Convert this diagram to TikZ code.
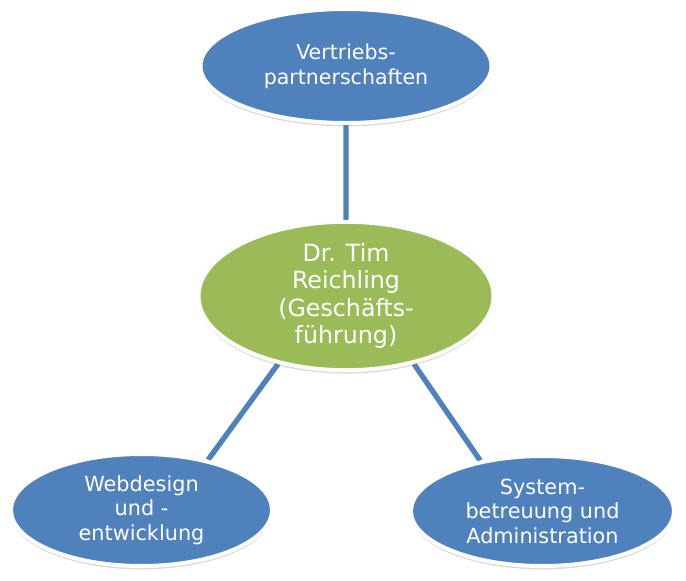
\documentclass[tikz,border=0pt]{standalone}
\usepackage{fontspec}
\setmainfont{DejaVu Sans}
\usetikzlibrary{shapes,shadows}
\usetikzlibrary{backgrounds}

\definecolor{bereich}{HTML}{4F81BD}
\definecolor{leitung}{HTML}{9BBB59}

\tikzset{
	bubble/.style={ellipse, draw=white, line width=3pt, inner sep=0pt,
		text=white, align=center,
		drop shadow={opacity=.3, shadow xshift=0pt, shadow yshift=-2.5pt}},
	link/.style={bereich, line width=4pt}
}

\begin{document}
\begin{tikzpicture}[x=.75pt,y=-.75pt]
	\useasboundingbox (0,0) rectangle (686,581);
	
	\node[bubble, fill=bereich, minimum width=218.25pt, minimum height=85.5pt,
		font=\fontsize{15.4}{18.75}\selectfont]
		(vertrieb) at (346,66) {Vertriebs-\\partnerschaften};
	\node[bubble, fill=leitung, minimum width=221.25pt, minimum height=111pt,
		font=\fontsize{17.8}{20.5}\selectfont]
		(chef) at (346,296) {Dr. Tim\\Reichling\\(Geschäfts-\\führung)};
	\node[bubble, fill=bereich, minimum width=195.75pt, minimum height=84pt,
		font=\fontsize{15.6}{18.4}\selectfont]
		(web) at (141.5,510) {Webdesign\\und -\\entwicklung};
	\node[bubble, fill=bereich, minimum width=197.25pt, minimum height=82.5pt,
		font=\fontsize{15.6}{18.4}\selectfont]
		(system) at (542.5,511) {System-\\betreuung und\\Administration};
	
	\begin{scope}[on background layer]
		\draw[link]
			(chef.90)--(vertrieb.-90)
			(chef.225)--(web.37)
			(chef.-45)--(system.141.5);
	\end{scope}
	
\end{tikzpicture}
\end{document}
